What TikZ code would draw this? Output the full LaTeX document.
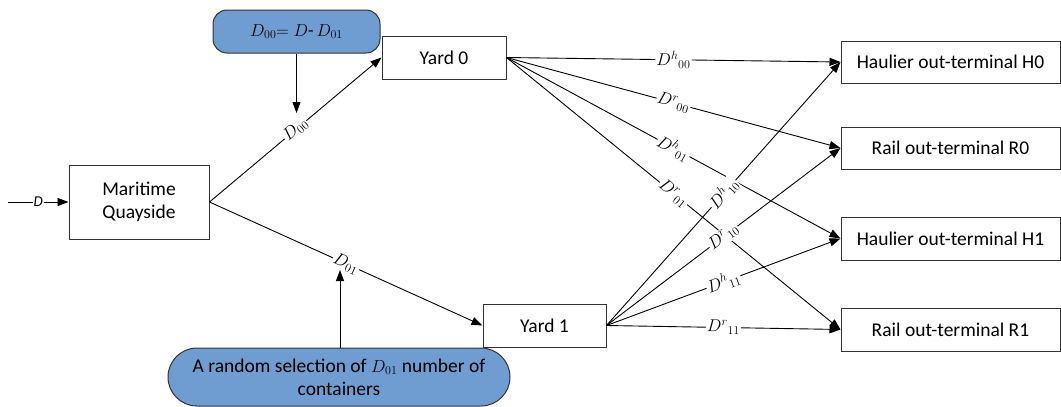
\documentclass[tikz,border=0pt]{standalone}
\usepackage{fontspec}
\setmainfont{Carlito}
\usetikzlibrary{arrows.meta}
\definecolor{boxblue}{RGB}{112,157,209}
\definecolor{frame}{RGB}{50,50,50}
\tikzset{
  box/.style={draw=frame, line width=1pt, fill=white, inner sep=0pt, align=center,
    font=\fontsize{19.5}{23}\selectfont},
  bluebox/.style={draw=frame, line width=1pt, fill=boxblue, inner sep=0pt, align=center,
    font=\fontsize{19.5}{23}\selectfont},
  flow/.style={draw=black, line width=0.9pt, -{Triangle[length=11pt,width=8pt]}},
  lbl/.style={sloped, fill=white, inner sep=1pt, font=\fontsize{17}{20}\selectfont},
}
\begin{document}
\begin{tikzpicture}[x=1pt,y=-1pt]
\useasboundingbox (0,0) rectangle (1061,407);

% blocks
\node[box, minimum width=140pt, minimum height=74pt] (mq) at (139,202) {Maritime\\Quayside};
\node[box, minimum width=124pt, minimum height=43pt] (y0) at (444,57.5) {Yard 0};
\node[box, minimum width=123pt, minimum height=43pt] (y1) at (544.5,325.5) {Yard 1};
\node[box, minimum width=219pt, minimum height=42pt] (h0) at (950.5,62) {Haulier out-terminal H0};
\node[box, minimum width=219pt, minimum height=42pt] (r0) at (950.5,148) {Rail out-terminal R0};
\node[box, minimum width=219pt, minimum height=43pt] (h1) at (950.5,238.5) {Haulier out-terminal H1};
\node[box, minimum width=219pt, minimum height=43pt] (r1) at (950.5,329.5) {Rail out-terminal R1};

% rule boxes
\node[bluebox, rounded corners=14pt, minimum width=167pt, minimum height=43pt] (b0) at (296.5,31.5)
  {\fontsize{18}{20}\selectfont $D_{00}{=}\;D\mbox{-}\,D_{01}$};
\node[bluebox, rounded corners=29pt, minimum width=342pt, minimum height=58pt] (b1) at (339,377)
  {A random selection of {\fontsize{18}{20}\selectfont$D_{01}$} number of\\containers};

% input
\coordinate (in) at (8,202);
\draw[flow] (in) -- node[fill=white, inner sep=1pt, font=\fontsize{15}{17}\selectfont\itshape] {D} (mq.west);

% quayside to yards
\draw[flow] (mq.east) -- node[lbl] {$D_{00}$} (y0.west);
\draw[flow] (mq.east) -- node[lbl] {$D_{01}$} (y1.west);

% rule arrows
\coordinate (t0) at (296.5,113);
\coordinate (t1) at (340,270);
\draw[flow] (b0.south) -- (t0);
\draw[flow] (b1.north -| t1) -- (t1);

% yard 0 outputs
\draw[flow] (y0.east) -- node[lbl] {$D^{h}{}_{00}$} (h0.west);
\draw[flow] (y0.east) -- node[lbl] {$D^{r}{}_{00}$} (r0.west);
\draw[flow] (y0.east) -- node[lbl] {$D^{h}{}_{01}$} (h1.west);
\draw[flow] (y0.east) -- node[lbl] {$D^{r}{}_{01}$} (r1.west);

% yard 1 outputs
\draw[flow] (y1.east) -- node[lbl] {$D^{h}{}_{10}$} (h0.west);
\draw[flow] (y1.east) -- node[lbl] {$D^{r}{}_{10}$} (r0.west);
\draw[flow] (y1.east) -- node[lbl] {$D^{h}{}_{11}$} (h1.west);
\draw[flow] (y1.east) -- node[lbl] {$D^{r}{}_{11}$} (r1.west);
\end{tikzpicture}
\end{document}
